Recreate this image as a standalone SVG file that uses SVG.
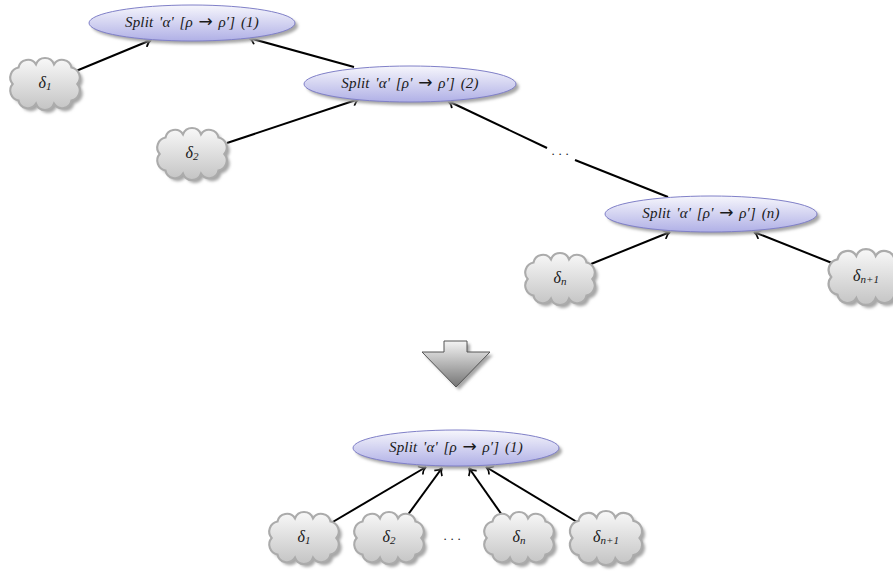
<svg xmlns="http://www.w3.org/2000/svg" width="893" height="571" viewBox="0 0 893 571">
<style>
text{font-family:"Liberation Serif","DejaVu Serif",serif;fill:#1a1a1a;text-anchor:middle}
.l{font-size:15px;font-style:italic;word-spacing:1.6px;letter-spacing:.2px}
.a{font-family:"DejaVu Sans",sans-serif;font-style:normal;font-size:17px}
.d{font-size:16px;font-style:italic}
.s{font-size:11px}
.dots{font-size:13px;letter-spacing:3.75px}
.e{fill:url(#eg);stroke:#8080c8;stroke-width:1}
.c{fill:url(#cg);stroke:#ababab;stroke-width:2}
.sh{fill:#a6a6a6;filter:url(#bl)}
.w{fill:none;stroke:#000;stroke-width:2}
.h{marker-end:url(#ar)}
</style>
<defs>
<linearGradient id="eg" x1="0" y1="0" x2="0" y2="1"><stop offset="0" stop-color="#f6f6fc"/><stop offset="1" stop-color="#b0b0e6"/></linearGradient>
<linearGradient id="cg" x1="0" y1="0" x2="0" y2="1"><stop offset="0" stop-color="#f8f8f8"/><stop offset="1" stop-color="#c4c4c4"/></linearGradient>
<linearGradient id="ag" x1="0" y1="0" x2="0" y2="1"><stop offset="0" stop-color="#f4f4f4"/><stop offset="1" stop-color="#757575"/></linearGradient>
<filter id="bl" x="-20%" y="-30%" width="140%" height="160%"><feGaussianBlur stdDeviation="1.4"/></filter>
<marker id="ar" markerUnits="userSpaceOnUse" markerWidth="14" markerHeight="14" refX="9.5" refY="7" orient="auto"><path d="M3 2.2Q5.5 6 9.5 7Q5.5 8 3 11.8" fill="none" stroke="#000" stroke-width="1.7"/></marker>
<path id="cl" d="M25-15.5A9.5 9.5 0 0 1 30.5 0A9.5 9.5 0 0 1 25 15.5A9 9 0 0 1 8.5 18.5A9 9 0 0 1-8.5 18.5A9 9 0 0 1-25 15.5A9.5 9.5 0 0 1-30.5 0A9.5 9.5 0 0 1-25-15.5A9 9 0 0 1-8.5-18.5A9 9 0 0 1 8.5-18.5A9 9 0 0 1 25-15.5Z"/>
</defs>
<g id="connectors">
<path class="w h" d="M76 71L151 40"/>
<path class="w h" d="M354 67L249 38"/>
<path class="w h" d="M227 143L359 99"/>
<path class="w h" d="M547 148L448 101"/>
<path class="w" d="M575 160L668 197"/>
<path class="w h" d="M591 264L670 232"/>
<path class="w h" d="M832 263L754 232"/>
<path class="w h" d="M331 523L426 467"/>
<path class="w h" d="M407 516L442 468"/>
<path class="w h" d="M502 515L469 468"/>
<path class="w h" d="M577 522L486 467"/>
</g>
<g id="split1"><ellipse class="sh" cx="195" cy="26" rx="103" ry="18"/><ellipse class="e" cx="192" cy="23" rx="103" ry="18"/><text class="l" x="192" y="27">Split 'α' [ρ <tspan class="a">→</tspan> ρ′] (1)</text></g>
<g id="split2"><ellipse class="sh" cx="413" cy="87" rx="106" ry="18"/><ellipse class="e" cx="410" cy="84" rx="106" ry="18"/><text class="l" x="410" y="88">Split 'α' [ρ′ <tspan class="a">→</tspan> ρ′] (2)</text></g>
<g id="splitn"><ellipse class="sh" cx="714" cy="217" rx="106" ry="18"/><ellipse class="e" cx="711" cy="214" rx="106" ry="18"/><text class="l" x="711" y="218">Split 'α' [ρ′ <tspan class="a">→</tspan> ρ′] (n)</text></g>
<g id="splitb"><ellipse class="sh" cx="459" cy="451" rx="103" ry="18"/><ellipse class="e" cx="456" cy="448" rx="103" ry="18"/><text class="l" x="456" y="452">Split 'α' [ρ <tspan class="a">→</tspan> ρ′] (1)</text></g>
<g id="c1"><use href="#cl" class="sh" transform="translate(48 87) scale(1.06)"/><use href="#cl" class="c" transform="translate(45 84) scale(1.06)"/><text class="d" x="45" y="88">δ<tspan class="s" dy="2">1</tspan></text></g>
<g id="c2"><use href="#cl" class="sh" transform="translate(195 157) scale(1.06)"/><use href="#cl" class="c" transform="translate(192 154) scale(1.06)"/><text class="d" x="192" y="158">δ<tspan class="s" dy="2">2</tspan></text></g>
<g id="cn"><use href="#cl" class="sh" transform="translate(563 282) scale(1.06)"/><use href="#cl" class="c" transform="translate(560 279) scale(1.06)"/><text class="d" x="560" y="283">δ<tspan class="s" dy="2">n</tspan></text></g>
<g id="cn1"><use href="#cl" class="sh" transform="translate(869 280) scale(1.14)"/><use href="#cl" class="c" transform="translate(866 277) scale(1.14)"/><text class="d" x="866" y="281">δ<tspan class="s" dy="2">n+1</tspan></text></g>
<g id="b1"><use href="#cl" class="sh" transform="translate(307 541) scale(1.06)"/><use href="#cl" class="c" transform="translate(304 538) scale(1.06)"/><text class="d" x="304" y="542">δ<tspan class="s" dy="2">1</tspan></text></g>
<g id="b2"><use href="#cl" class="sh" transform="translate(392 541) scale(1.06)"/><use href="#cl" class="c" transform="translate(389 538) scale(1.06)"/><text class="d" x="389" y="542">δ<tspan class="s" dy="2">2</tspan></text></g>
<g id="bn"><use href="#cl" class="sh" transform="translate(522 541) scale(1.06)"/><use href="#cl" class="c" transform="translate(519 538) scale(1.06)"/><text class="d" x="519" y="542">δ<tspan class="s" dy="2">n</tspan></text></g>
<g id="bn1"><use href="#cl" class="sh" transform="translate(609 541) scale(1.1)"/><use href="#cl" class="c" transform="translate(606 538) scale(1.1)"/><text class="d" x="606" y="542">δ<tspan class="s" dy="2">n+1</tspan></text></g>
<text class="dots" x="562" y="155">...</text>
<text class="dots" x="454" y="540">...</text>
<g id="down"><path class="sh" d="M447 344H470V355H493L459 390L425 355H447Z"/><path d="M444 341H467V352H490L456 387L422 352H444Z" fill="url(#ag)" stroke="#555" stroke-width="1"/></g>
</svg>
